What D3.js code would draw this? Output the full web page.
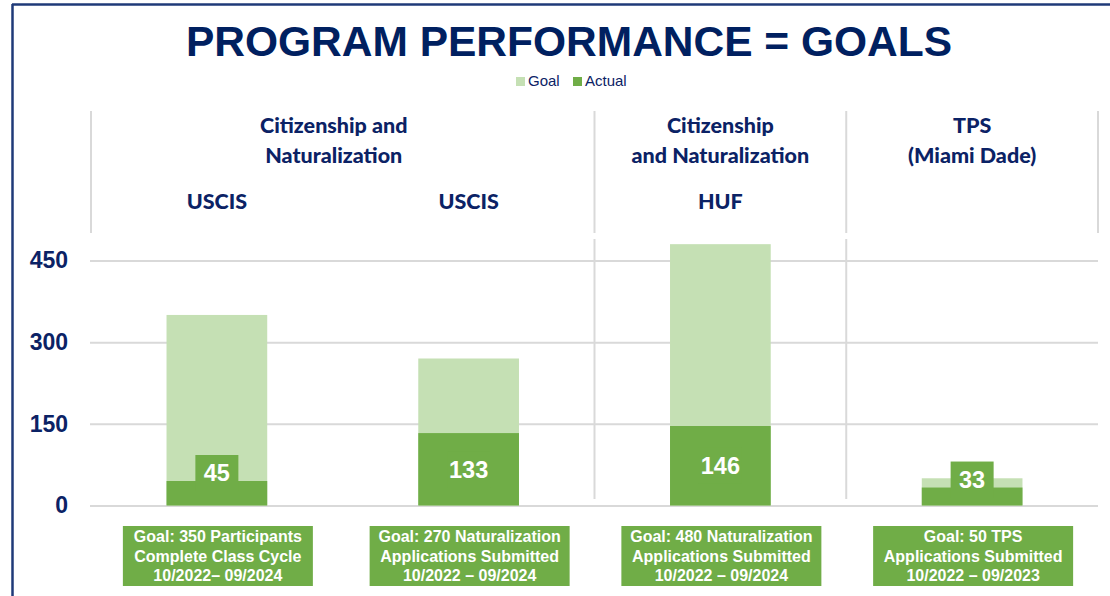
<!DOCTYPE html>
<html>
<head>
<meta charset="utf-8">
<script src="https://cdn.jsdelivr.net/npm/d3@7"></script>
<style>
  html, body { margin: 0; padding: 0; background: #fff; }
  svg { display: block; }
</style>
</head>
<body>
<svg id="chart" width="1110" height="596"></svg>
<script>
// ---- data ----
const categories = ["USCIS A", "USCIS B", "HUF", "TPS"];
const goalValues = [350, 270, 480, 50];
const actualValues = [45, 133, 146, 33];
const yTickValues = [0, 150, 300, 450];
const subHeaders = ["USCIS", "USCIS", "HUF", ""];
const groupHeaders = [
  { lines: ["Citizenship and", "Naturalization"], from: 0, to: 1 },
  { lines: ["Citizenship", "and Naturalization"], from: 2, to: 2 },
  { lines: ["TPS", "(Miami Dade)"], from: 3, to: 3 }
];
const goalNotes = [
  ["Goal: 350 Participants", "Complete Class Cycle", "10/2022\u2013 09/2024"],
  ["Goal: 270 Naturalization", "Applications Submitted", "10/2022 \u2013 09/2024"],
  ["Goal: 480 Naturalization", "Applications Submitted", "10/2022 \u2013 09/2024"],
  ["Goal: 50 TPS", "Applications Submitted", "10/2022 \u2013 09/2023"]
];
const legendItems = ["Goal", "Actual"];
const titleText = "PROGRAM PERFORMANCE = GOALS";

// ---- styles ----
const NAVY = "#0B2265";
const TITLE = "#002060";
const GOAL_C = "#C5E0B4";
const ACT_C = "#70AD47";
const GRID = "#D9D9D9";
const ARIAL = "'Liberation Sans', Arial, sans-serif";
const HEAD = "Lato, 'Noto Sans', sans-serif";

const svg = d3.select("#chart");

// frame
svg.append("line").attr("x1", 12).attr("x2", 1110).attr("y1", 4.5).attr("y2", 4.5)
  .attr("stroke", "#1F3A78").attr("stroke-width", 2.5);
svg.append("line").attr("x1", 12.5).attr("x2", 12.5).attr("y1", 4).attr("y2", 596)
  .attr("stroke", "#1F3A78").attr("stroke-width", 2.5);

// title
svg.append("text").attr("x", 569).attr("y", 56).attr("text-anchor", "middle")
  .attr("font-family", ARIAL).attr("font-weight", "bold").attr("font-size", 42.5)
  .attr("fill", TITLE).text(titleText);

// scales
const x = d3.scaleBand().domain(categories).range([91, 1098])
  .paddingInner(0.6).paddingOuter(0.3);
const y = d3.scaleLinear().domain([0, 450]).range([505.5, 260.5]);
const step = x.step();
const cx = c => x(c) + x.bandwidth() / 2;
const leftEdge = i => x(categories[i]) - step * x.paddingInner() / 2;
const rightEdge = i => x(categories[i]) + x.bandwidth() + step * x.paddingInner() / 2;

// legend
const colorScale = d3.scaleOrdinal().domain(legendItems).range([GOAL_C, ACT_C]);
const legendX = [516, 573];
const lg = svg.append("g");
legendItems.forEach((k, i) => {
  lg.append("rect").attr("x", legendX[i]).attr("y", 77).attr("width", 9).attr("height", 9)
    .attr("fill", colorScale(k));
  lg.append("text").attr("x", legendX[i] + 12).attr("y", 86)
    .attr("font-family", ARIAL).attr("font-size", 15).attr("fill", NAVY).text(k);
});

// header separators
const headerLineXs = [leftEdge(0)].concat(groupHeaders.map(g => rightEdge(g.to)));
svg.append("g").selectAll("line").data(headerLineXs).join("line")
  .attr("x1", d => d).attr("x2", d => d).attr("y1", 111).attr("y2", 233)
  .attr("stroke", GRID).attr("stroke-width", 2);

// group headers
groupHeaders.forEach(g => {
  const c = (cx(categories[g.from]) + cx(categories[g.to])) / 2 - (g.to > g.from ? 9 : 0);
  g.lines.forEach((ln, j) => {
    svg.append("text").attr("x", c).attr("y", 133 + j * 30).attr("text-anchor", "middle")
      .attr("font-family", HEAD).attr("font-weight", "900").attr("font-size", 21.5)
      .attr("fill", NAVY).text(ln);
  });
});
svg.append("g").selectAll("text").data(categories).join("text")
  .attr("x", d => cx(d)).attr("y", 209).attr("text-anchor", "middle")
  .attr("font-family", HEAD).attr("font-weight", "900").attr("font-size", 21.5)
  .attr("fill", NAVY).text((d, i) => subHeaders[i]);

// gridlines
const yAxis = d3.axisLeft(y).tickValues(yTickValues).tickSize(-(1098 - 90)).tickPadding(22);
const ga = svg.append("g").attr("transform", "translate(90,0)").call(yAxis);
ga.select(".domain").remove();
ga.selectAll(".tick line").attr("stroke", GRID).attr("stroke-width", 2);
ga.selectAll(".tick text").attr("font-family", ARIAL).attr("font-weight", "bold")
  .attr("font-size", 23).attr("fill", NAVY).attr("x", -22);

// plot-area separators
const plotSepXs = groupHeaders.slice(0, -1).map(g => rightEdge(g.to));
svg.append("g").selectAll("line").data(plotSepXs).join("line")
  .attr("x1", d => d).attr("x2", d => d).attr("y1", 239).attr("y2", 499)
  .attr("stroke", GRID).attr("stroke-width", 2);

// goal bars
svg.append("g").selectAll("rect").data(categories).join("rect")
  .attr("x", d => x(d)).attr("width", x.bandwidth())
  .attr("y", (d, i) => y(goalValues[i]))
  .attr("height", (d, i) => y(0) - y(goalValues[i]))
  .attr("fill", GOAL_C);

// actual bars
svg.append("g").selectAll("rect").data(categories).join("rect")
  .attr("x", d => x(d)).attr("width", x.bandwidth())
  .attr("y", (d, i) => y(actualValues[i]))
  .attr("height", (d, i) => y(0) - y(actualValues[i]))
  .attr("fill", ACT_C);

// data labels
const BOX_H = 36;
const labelCenter = i => {
  const top = y(actualValues[i]);
  return (y(0) - top) < BOX_H + 4 ? top - 8 : (top + y(0)) / 2;
};
const dl = svg.append("g");
categories.forEach((c, i) => {
  const cy = labelCenter(i);
  dl.append("rect").attr("x", cx(c) - 21.5).attr("y", cy - BOX_H / 2).attr("width", 43).attr("height", BOX_H)
    .attr("fill", ACT_C);
  dl.append("text").attr("x", cx(c)).attr("y", cy).attr("dy", "0.36em")
    .attr("text-anchor", "middle").attr("font-family", ARIAL).attr("font-weight", "bold")
    .attr("font-size", 23.5).attr("fill", "#fff").text(actualValues[i]);
});

// goal note boxes
const nb = svg.append("g");
categories.forEach((c, i) => {
  const w = i === 0 ? 190 : 200;
  nb.append("rect").attr("x", cx(c) - w / 2 + 1).attr("y", 526).attr("width", w).attr("height", 60)
    .attr("fill", ACT_C);
  goalNotes[i].forEach((ln, j) => {
    nb.append("text").attr("x", cx(c) + 1).attr("y", 542 + j * 19.5)
      .attr("text-anchor", "middle").attr("font-family", ARIAL).attr("font-weight", "bold")
      .attr("font-size", 16).attr("fill", "#fff").text(ln);
  });
});
</script>
</body>
</html>
